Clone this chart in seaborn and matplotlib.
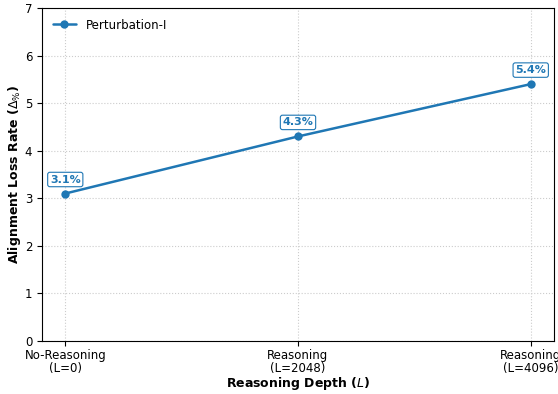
import matplotlib
matplotlib.use("Agg")
import matplotlib.pyplot as plt
import seaborn as sns
import pandas as pd

categories = ["No-Reasoning\n(L=0)", "Reasoning\n(L=2048)", "Reasoning\n(L=4096)"]
depth_index = [0, 1, 2]
loss_rate = [3.1, 4.3, 5.4]
series_name = "Perturbation-I"

sns.set_style("white")
plt.rcParams["font.family"] = ["DejaVu Sans"]
plt.rcParams["text.color"] = "black"
plt.rcParams["axes.labelcolor"] = "black"
plt.rcParams["xtick.color"] = "black"
plt.rcParams["ytick.color"] = "black"

df = pd.DataFrame({"x": depth_index, "y": loss_rate, "series": series_name})

fig = plt.figure(figsize=(5.58, 3.94), dpi=100)
ax = fig.add_axes([42 / 558, 1 - 341 / 394, 512 / 558, 333 / 394])

color = "#1f77b4"
sns.lineplot(data=df, x="x", y="y", hue="series", palette=[color], marker="o",
             markersize=6, linewidth=1.8, markeredgewidth=0, ax=ax)

for xi, yi in zip(depth_index, loss_rate):
    ax.annotate(f"{yi:.1f}%", (xi, yi), xytext=(0, 6.5), textcoords="offset points",
                ha="center", va="bottom", fontsize=8, fontweight="bold", color=color,
                bbox=dict(boxstyle="round,pad=0.2", fc="white", ec=color, lw=0.8))

ax.set_xlim(-0.1, 2.1)
ax.set_ylim(0, 7)
ax.set_xticks(depth_index)
ax.set_xticklabels(categories, fontsize=8.5, linespacing=1.05)
ax.tick_params(axis="y", labelsize=8.5)
ax.tick_params(axis="both", length=3.5, width=0.8, direction="out", bottom=True, left=True)
ax.tick_params(axis="x", pad=2)
ax.grid(True, linestyle=":", color="#cccccc", linewidth=0.8)
for s in ax.spines.values():
    s.set_color("black")
    s.set_linewidth(0.8)

ax.set_xlabel(r"Reasoning Depth ($L$)", fontsize=9, fontweight="bold", labelpad=0)
ax.set_ylabel(r"Alignment Loss Rate ($\Delta_{\%}$)", fontsize=9, fontweight="bold", labelpad=1)
ax.legend(loc="upper left", frameon=False, fontsize=8.5)

fig.savefig("out.png", dpi=100)
